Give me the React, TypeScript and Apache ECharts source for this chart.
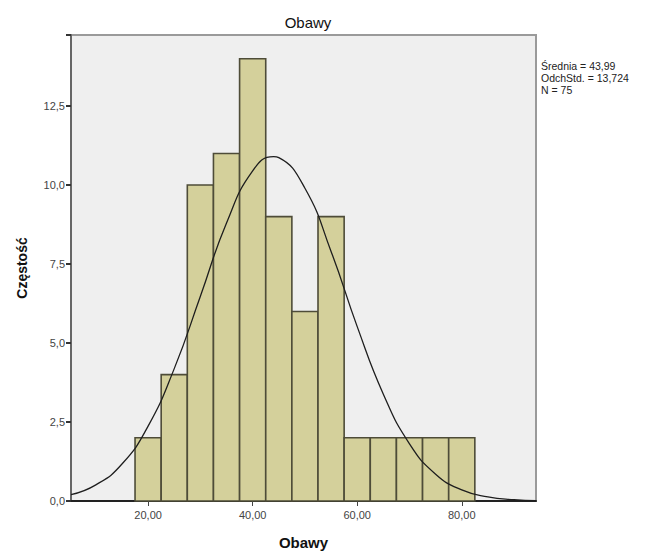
import React, { useEffect, useRef } from "react";
import * as echarts from "echarts";

const binCenters = [20, 25, 30, 35, 40, 45, 50, 55, 60, 65, 70, 75, 80];
const counts = [2, 4, 10, 11, 14, 9, 6, 9, 2, 2, 2, 2, 2];
const binWidth = 5;

const curveX = [5.25, 10, 15, 20, 25, 30, 35, 40, 44, 45, 50, 55, 60, 65, 70, 75, 80, 85, 90, 94.2];
const curveY = [0.2, 0.51, 1.17, 2.37, 4.19, 6.48, 8.8, 10.45, 10.9, 10.87, 9.9, 7.9, 5.52, 3.38, 1.81, 0.85, 0.35, 0.13, 0.04, 0.01];

const xTicks = [20, 40, 60, 80];
const xTickLabels = ["20,00", "40,00", "60,00", "80,00"];
const statsLines = ["Średnia = 43,99", "OdchStd. = 13,724", "N = 75"];

export default function App() {
  const ref = useRef<HTMLDivElement>(null);
  useEffect(() => {
    if (!ref.current) return;
    const chart = echarts.init(ref.current, undefined, { renderer: "svg" });
    const histData = binCenters.map((c, i) => [c - binWidth / 2, c + binWidth / 2, counts[i]]);
    const font = "Liberation Sans, Arial, sans-serif";
    chart.setOption({
      animation: false,
      backgroundColor: "#ffffff",
      title: {
        text: "Obawy",
        left: 303,
        textAlign: "center",
        top: 10,
        textStyle: { fontFamily: font, fontSize: 15, fontWeight: "normal", color: "#111" },
      },
      grid: {
        left: 71,
        right: 117,
        top: 35,
        bottom: 55,
        show: true,
        backgroundColor: "#efefef",
        borderColor: "#9a9a9a",
        borderWidth: 2,
      },
      xAxis: {
        type: "value",
        min: 5.25,
        max: 94.2,
        name: "Obawy",
        nameLocation: "middle",
        nameGap: 34,
        nameTextStyle: { fontFamily: font, fontSize: 15, fontWeight: "bold", color: "#111" },
        axisLine: { show: true, onZero: false, lineStyle: { color: "#222", width: 2 } },
        axisTick: { show: true, customValues: xTicks, length: 5, lineStyle: { color: "#444" } },
        axisLabel: {
          customValues: xTicks,
          formatter: (v: number) => xTickLabels[xTicks.indexOf(Math.round(v))] ?? "",
          fontFamily: font,
          fontSize: 11,
          color: "#444",
          margin: 8,
        },
        splitLine: { show: false },
      },
      yAxis: {
        type: "value",
        min: 0,
        max: 14.75,
        interval: 2.5,
        name: "Częstość",
        nameLocation: "middle",
        nameGap: 42,
        nameRotate: 90,
        nameTextStyle: { fontFamily: font, fontSize: 14, fontWeight: "bold", color: "#111" },
        axisLine: { show: true, lineStyle: { color: "#666", width: 2 } },
        axisTick: { show: true, length: 5, lineStyle: { color: "#333", width: 2 } },
        axisLabel: {
          formatter: (v: number) => (v > 14 ? "" : v.toFixed(1).replace(".", ",")),
          fontFamily: font,
          fontSize: 11,
          color: "#444",
          margin: 6,
        },
        splitLine: { show: false },
      },
      series: [
        {
          type: "custom",
          data: histData,
          encode: { x: [0, 1], y: 2 },
          renderItem: (params: any, api: any) => {
            const x0 = api.value(0);
            const x1 = api.value(1);
            const y = api.value(2);
            const p0 = api.coord([x0, y]);
            const p1 = api.coord([x1, 0]);
            return {
              type: "rect",
              shape: { x: p0[0], y: p0[1], width: p1[0] - p0[0], height: p1[1] - p0[1] },
              style: { fill: "#d4d09b", stroke: "#4e4c38", lineWidth: 1.6 },
            };
          },
          z: 2,
        },
        {
          type: "line",
          data: curveX.map((x, i) => [x, curveY[i]]),
          smooth: true,
          showSymbol: false,
          lineStyle: { color: "#1e1e1e", width: 1.3 },
          z: 3,
        },
      ],
      graphic: statsLines.map((t, i) => ({
        type: "text",
        left: 541,
        top: 60 + i * 12,
        style: { text: t, fontFamily: font, fontSize: 10.5, fill: "#222" },
      })),
    });
    return () => chart.dispose();
  }, []);
  return <div ref={ref} style={{ position: "fixed", left: 0, top: 0, width: 653, height: 556 }} />;
}
